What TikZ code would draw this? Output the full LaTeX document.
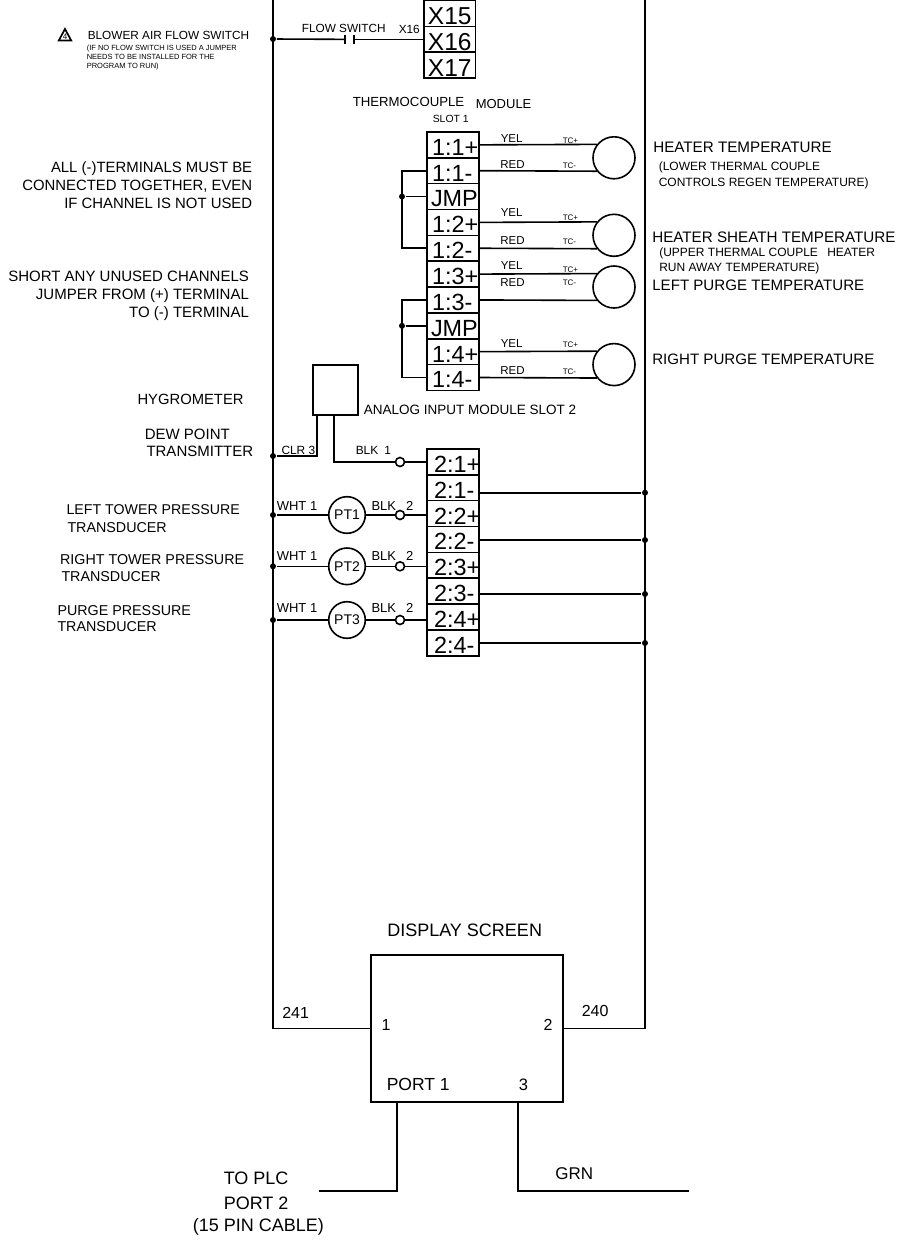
\documentclass[tikz,border=0pt]{standalone}
\usepackage{fontspec}
\setmainfont{Liberation Sans}
\begin{document}
\begin{tikzpicture}[x=1pt,y=-1pt,line width=1.6pt,
  fs/.style={font=\fontsize{#1}{#1}\selectfont},
  tl/.style={anchor=base west,inner sep=0pt,fs=#1},
  tr/.style={anchor=base east,inner sep=0pt,fs=#1},
  term/.style={draw,rectangle,inner sep=0pt,minimum width=52pt,minimum height=25.85pt,text depth=2.5pt,text height=23.35pt,fs=23.4,text width=52pt},
  xterm/.style={draw,rectangle,inner sep=0pt,minimum width=51.5pt,minimum height=25.85pt,text depth=1.6pt,text height=24.25pt,fs=24.5,align=center},
  tc/.style={draw,circle,inner sep=0pt,minimum size=42pt},
  pt/.style={draw,circle,inner sep=0pt,minimum size=36.6pt,fs=14},
  dot/.style={circle,fill,inner sep=0pt,minimum size=6pt},
  odot/.style={circle,draw,fill=white,inner sep=0pt,minimum size=9pt},
  box/.style={draw,rectangle,inner sep=0pt}]
\useasboundingbox (0,0) rectangle (909,1242);

% display screen and buses
\node[box,minimum width=192pt,minimum height=147pt] (disp) at (467,1028.5) {};
\coordinate (blt) at (273,-2);
\coordinate (blb) at (273,1028.5);
\coordinate (brt) at (645,-2);
\coordinate (brb) at (645,1028.5);
\draw (blt) -- (blb) -- (disp.west);
\draw (brt) -- (brb) -- (disp.east);
\coordinate (p1) at (397,1191);
\coordinate (p1e) at (319,1191);
\coordinate (p3) at (518,1191);
\coordinate (p3e) at (689,1191);
\draw (disp.south -| p1) -- (p1) -- (p1e);
\draw (disp.south -| p3) -- (p3) -- (p3e);

% X terminals
\node[xterm] (x15) at (449.75,13.5) {X15};
\node[xterm] (x16) at (449.75,39.35) {X16};
\node[xterm] (x17) at (449.75,65.2) {X17};
\node[dot] (dsw) at (273,39) {};
\coordinate (ca) at (345,39.35);
\coordinate (cb) at (354,39.35);
\draw (dsw) -- (ca);
\draw (cb) -- (x16.west);
\draw ([yshift=-4.5pt]ca) -- ([yshift=4.5pt]ca);
\draw ([yshift=-4.5pt]cb) -- ([yshift=4.5pt]cb);

% warning triangle
\draw[line width=1.7pt,line join=miter] (58.8,40.5) -- (65,29) -- (71.2,40.5) -- cycle;
\node[fs=8,inner sep=0pt] (warn) at (65,36.3) {4};

% slot 1 terminals
\node[term] (a1p) at (453,144.85) {\hspace*{5pt}1:1+};
\node[term] (a1m) at (453,170.7) {\hspace*{5pt}1:1-};
\node[term] (aj1) at (453,196.55) {\hspace*{4pt}JMP};
\node[term] (a2p) at (453,222.4) {\hspace*{5pt}1:2+};
\node[term] (a2m) at (453,248.25) {\hspace*{5pt}1:2-};
\node[term] (a3p) at (453,274.1) {\hspace*{5pt}1:3+};
\node[term] (a3m) at (453,299.95) {\hspace*{5pt}1:3-};
\node[term] (aj2) at (453,325.8) {\hspace*{4pt}JMP};
\node[term] (a4p) at (453,351.65) {\hspace*{5pt}1:4+};
\node[term] (a4m) at (453,377.5) {\hspace*{5pt}1:4-};

% thermocouple circles
\node[tc] (c1) at (614,157.8) {};
\node[tc] (c2) at (614,235.3) {};
\node[tc] (c3) at (614,287) {};
\node[tc] (c4) at (614,364.6) {};
\foreach \t/\c in {a1/c1,a2/c2,a3/c3,a4/c4}{
  \draw (\t p.east) -- (\c.142);
  \draw (\t m.east) -- (\c.218);
}
% jumpers
\node[dot] (j1) at (402,196.55) {};
\node[dot] (j2) at (402,325.8) {};
\draw (a1m.west) -| (j1.center) |- (a2m.west);
\draw (j1) -- (aj1.west);
\draw (a3m.west) -| (j2.center) |- (a4m.west);
\draw (j2) -- (aj2.west);

% slot 2 terminals
\node[term] (b1p) at (453,461.9) {\hspace*{7pt}2:1+};
\node[term] (b1m) at (453,487.75) {\hspace*{7pt}2:1-};
\node[term] (b2p) at (453,513.6) {\hspace*{7pt}2:2+};
\node[term] (b2m) at (453,539.45) {\hspace*{7pt}2:2-};
\node[term] (b3p) at (453,565.3) {\hspace*{7pt}2:3+};
\node[term] (b3m) at (453,591.15) {\hspace*{7pt}2:3-};
\node[term] (b4p) at (453,617) {\hspace*{7pt}2:4+};
\node[term] (b4m) at (453,642.85) {\hspace*{7pt}2:4-};

% returns to right bus
\node[dot] (r1) at (645,492.7) {};
\node[dot] (r2) at (645,540) {};
\node[dot] (r3) at (645,594) {};
\node[dot] (r4) at (645,643) {};
\draw (b1m.east |- r1) -- (r1);
\draw (b2m.east |- r2) -- (r2);
\draw (b3m.east |- r3) -- (r3);
\draw (b4m.east |- r4) -- (r4);

% dew point transmitter
\node[box,minimum width=45pt,minimum height=50pt] (dew) at (335.5,390) {};
\coordinate (clr) at (317,456);
\coordinate (blk) at (334,462);
\node[dot] (dd) at (273,456) {};
\node[odot] (od) at (400,462) {};
\draw (dew.south -| clr) -- (clr) -- (dd);
\draw (dew.south -| blk) -- (blk) -- (od);
\draw (od) -- (b1p.west |- od);

% pressure transducers
\node[pt] (pt1) at (347,515) {PT1};
\node[pt] (pt2) at (347,566.3) {PT2};
\node[pt] (pt3) at (347,620) {PT3};
\node[dot] (l1) at (273,515) {};
\node[dot] (l2) at (273,566.3) {};
\node[dot] (l3) at (273,620) {};
\node[odot] (o1) at (400,515) {};
\node[odot] (o2) at (400,566.3) {};
\node[odot] (o3) at (400,620) {};
\draw (l1) -- (pt1) -- (o1) -- (b2p.west |- o1);
\draw (l2) -- (pt2) -- (o2) -- (b3p.west |- o2);
\draw (l3) -- (pt3) -- (o3) -- (b4p.west |- o3);

% top labels
\node[tl=11.8] (t1) at (87,39) {BLOWER AIR FLOW SWITCH};
\node[tl=7.5] (t2) at (86,50) {(IF NO FLOW SWITCH IS USED A JUMPER};
\node[tl=7.5] (t3) at (86,59) {NEEDS TO BE INSTALLED FOR THE};
\node[tl=7.5] (t4) at (86,68) {PROGRAM TO RUN)};
\node[tl=11.8] (t5) at (301,32) {FLOW SWITCH};
\node[tl=11.8] (t6) at (398,33) {X16};
\node[tl=13.2] (t7) at (352,106) {THERMOCOUPLE};
\node[tl=13] (t8) at (475,108) {MODULE};
\node[tl=10.4] (t9) at (432,122) {SLOT 1};

% wire labels slot 1
\foreach \nm/\x/\y/\s in {y1/500/142/YEL,y2/500/216.7/YEL,y3/500/269/YEL,y4/500/347.7/YEL,
                     e1/499.5/168/RED,e2/499.5/244/RED,e3/499.5/286/RED,e4/499.5/374/RED}{
  \node[tl=11.5] (\nm) at (\x,\y) {\s};
}
\foreach \nm/\y in {p1/143,p2/220.7,p3/272.7,p4/347.7}{
  \node[tl=8] (tc\nm) at (562,\y) {TC+};
}
\foreach \nm/\y in {m1/168,m2/244,m3/285,m4/374}{
  \node[tl=8] (tc\nm) at (562,\y) {TC-};
}

% right labels
\node[tl=15.2] (h1) at (652.5,152.7) {HEATER TEMPERATURE};
\node[tl=12] (h2) at (658,170.7) {(LOWER THERMAL COUPLE};
\node[tl=12] (h3) at (658,186) {CONTROLS REGEN TEMPERATURE)};
\node[tl=15.2] (h4) at (651.5,242.7) {HEATER SHEATH TEMPERATURE};
\node[tl=12] (h5) at (658.5,256.7) {(UPPER THERMAL COUPLE\hspace{6pt} HEATER};
\node[tl=12] (h6) at (658.5,271.7) {RUN AWAY TEMPERATURE)};
\node[tl=15.1] (h7) at (651.5,290.7) {LEFT PURGE TEMPERATURE};
\node[tl=15.1] (h8) at (651.5,364.7) {RIGHT PURGE TEMPERATURE};

% left notes
\node[tr=14.9] (n1) at (253,172) {ALL (-)TERMINALS MUST BE};
\node[tr=14.9] (n2) at (253,190) {CONNECTED TOGETHER, EVEN};
\node[tr=14.9] (n3) at (253,208.3) {IF CHANNEL IS NOT USED};
\node[tr=15] (n4) at (249.7,281) {SHORT ANY UNUSED CHANNELS};
\node[tr=15] (n5) at (249.7,299) {JUMPER FROM (+) TERMINAL};
\node[tr=15] (n6) at (249.7,317) {TO (-) TERMINAL};
\node[tl=14.8] (n7) at (136.7,404) {HYGROMETER};
\node[tl=15] (n8) at (144,439) {DEW POINT};
\node[tl=15] (n9) at (145.7,456) {TRANSMITTER};
\node[tl=14.2] (n10) at (65.7,514) {LEFT TOWER PRESSURE};
\node[tl=14.3] (n11) at (66.7,532) {TRANSDUCER};
\node[tl=14.3] (n12) at (59.3,564) {RIGHT TOWER PRESSURE};
\node[tl=14.3] (n13) at (60.7,581) {TRANSDUCER};
\node[tl=14.3] (n14) at (56.7,615) {PURGE PRESSURE};
\node[tl=14.3] (n15) at (56.7,631.7) {TRANSDUCER};

% analog labels
\node[tl=13.5] (an) at (363,414) {ANALOG INPUT MODULE SLOT 2};
\node[tl=11.9] (w0) at (280.7,454) {CLR 3};
\node[tl=11.9] (w1) at (355,454) {BLK\hspace{6pt}1};
\foreach \nm/\y in {1/510.7,2/560,3/612}{
  \node[tl=13] (wh\nm) at (276,\y) {WHT 1};
  \node[tl=13] (bk\nm) at (370.7,\y) {BLK\hspace{10pt}2};
}

% bottom labels
\node[tl=18] (b1) at (386.5,936.7) {DISPLAY SCREEN};
\node[tl=16] (b2) at (281.5,1018.7) {241};
\node[tl=16] (b3) at (581,1016) {240};
\node[tl=16] (b4) at (380.7,1030.7) {1};
\node[tl=16] (b5) at (542.7,1030.7) {2};
\node[tl=17.5] (b6) at (386,1090) {PORT 1};
\node[tl=16.5] (b7) at (518,1090) {3};
\node[tl=17] (b8) at (554.5,1179) {GRN};
\node[tl=18] (b9) at (223,1184) {TO PLC};
\node[tl=18] (b10) at (223,1209) {PORT 2};
\node[tl=18] (b11) at (192,1231) {(15 PIN CABLE)};
\end{tikzpicture}
\end{document}
